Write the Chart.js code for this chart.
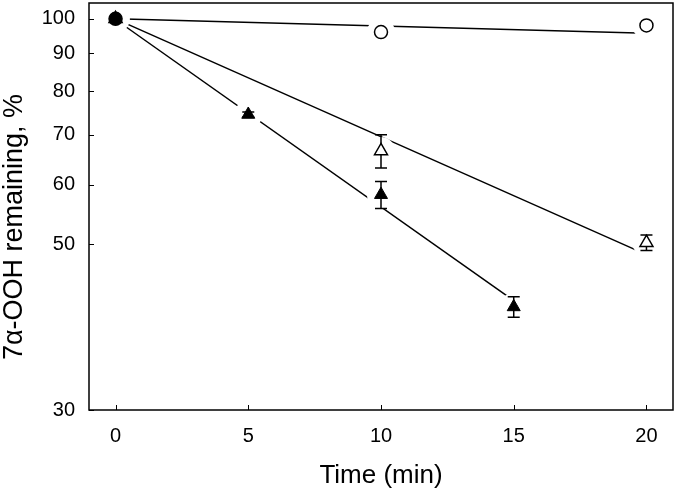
<!DOCTYPE html>
<html>
<head>
<meta charset="utf-8">
<script src="https://cdn.jsdelivr.net/npm/chart.js@4"></script>
<style>
body{margin:0;background:#fff}
</style>
</head>
<body>
<canvas id="chart" width="676" height="489"></canvas>
<script>
const xTicks = [0, 5, 10, 15, 20]
const yTicks = [30, 50, 60, 70, 80, 90, 100]

// open circles
const circleTime = [0, 10, 20]
const circleVal = [100, 96, 98]

// open triangles
const openTime = [0, 10, 20]
const openVal = [100, 66.6, 50.2]
const openErr = [0, 3.4, 1.2]

// filled triangles
const filledTime = [0, 5, 10, 15]
const filledVal = [100, 74.5, 58.2, 41.2]
const filledErr = [0, 0.6, 2.4, 1.3]

// fitted decay lines, start and end
const circleFitTime = [0, 20]
const circleFit = [100, 95.7]
const openFitTime = [0, 20]
const openFit = [100, 48.4]
const filledFitTime = [0, 15]
const filledFit = [99.8, 42.0]

const pts = (xs, ys) => xs.map((x, i) => ({x: x, y: ys[i]}))

const FONT = 'Liberation Sans, Arial, sans-serif'

// error bars, drawn just before the marker dataset so markers cover them
const errorBars = {
    id: 'errorBars',
    beforeDatasetDraw(chart, args) {
        const ds = chart.data.datasets[args.index]
        if (!ds.err) return
        const ctx = chart.ctx
        const xs = chart.scales.x, ys = chart.scales.y
        ctx.save()
        ctx.strokeStyle = '#000'
        ctx.lineWidth = 1.5
        ds.data.forEach((p, i) => {
            const e = ds.err[i]
            if (!e) return
            const px = xs.getPixelForValue(p.x)
            const top = ys.getPixelForValue(p.y + e)
            const bot = ys.getPixelForValue(p.y - e)
            ctx.beginPath()
            ctx.moveTo(px, top); ctx.lineTo(px, bot)
            ctx.moveTo(px - 6, top); ctx.lineTo(px + 6, top)
            ctx.moveTo(px - 6, bot); ctx.lineTo(px + 6, bot)
            ctx.stroke()
        })
        ctx.restore()
    }
}

// box frame with inward ticks, plus the rotated y title
const frame = {
    id: 'frame',
    beforeDatasetsDraw(chart) {
        const ctx = chart.ctx
        const a = chart.chartArea
        const xs = chart.scales.x, ys = chart.scales.y
        ctx.save()
        ctx.strokeStyle = '#000'
        ctx.lineWidth = 1.5
        ctx.strokeRect(a.left, a.top, a.right - a.left, a.bottom - a.top)
        ctx.beginPath()
        xTicks.forEach(t => {
            const px = Math.round(xs.getPixelForValue(t)) + 0.5
            ctx.moveTo(px, a.bottom); ctx.lineTo(px, a.bottom - 5)
        })
        yTicks.forEach(t => {
            const py = Math.round(ys.getPixelForValue(t)) + 0.5
            ctx.moveTo(a.left, py); ctx.lineTo(a.left + 5, py)
        })
        ctx.lineWidth = 1
        ctx.stroke()
        ctx.restore()
    },
    afterDraw(chart) {
        const ctx = chart.ctx
        ctx.save()
        ctx.translate(15, 227)
        ctx.rotate(-Math.PI / 2)
        ctx.fillStyle = '#000'
        ctx.font = '27px ' + FONT
        ctx.textAlign = 'center'
        ctx.textBaseline = 'middle'
        ctx.fillText('7α-OOH remaining, %', 0, 0)
        ctx.restore()
    }
}

// drop the label overflow padding so the plot box fills the canvas
const noPad = s => {
    s.paddingTop = 0
    s.paddingBottom = 0
    s.paddingLeft = 0
    s.paddingRight = 0
}

const allTime = circleTime.concat(openTime, filledTime)
const allVal = circleVal.concat(openVal, filledVal)

new Chart('chart', {
    type: 'scatter',
    data: {
        datasets: [
            {
                label: 'filled',
                data: pts(filledTime, filledVal),
                err: filledErr,
                pointStyle: 'triangle',
                pointRadius: 7.5,
                pointBackgroundColor: '#000',
                pointBorderColor: '#000',
                pointBorderWidth: 1,
                order: 1
            },
            {
                label: 'open',
                data: pts(openTime, openVal),
                err: openErr,
                pointStyle: 'triangle',
                pointRadius: 7.5,
                pointBackgroundColor: '#fff',
                pointBorderColor: '#000',
                pointBorderWidth: 1.5,
                order: 2
            },
            {
                label: 'circle',
                data: pts(circleTime, circleVal),
                pointStyle: 'circle',
                pointRadius: 6.5,
                pointBackgroundColor: ctx => ctx.raw && ctx.raw.x === 0 ? '#000' : '#fff',
                pointBorderColor: '#000',
                pointBorderWidth: 1.5,
                order: 3
            },
            {
                label: 'halo',
                data: pts(allTime, allVal),
                pointRadius: 14,
                pointBackgroundColor: '#fff',
                pointBorderWidth: 0,
                order: 5
            },
            {
                label: 'fit circle',
                data: pts(circleFitTime, circleFit),
                showLine: true,
                borderColor: '#000',
                borderWidth: 1.5,
                pointRadius: 0,
                order: 10
            },
            {
                label: 'fit open',
                data: pts(openFitTime, openFit),
                showLine: true,
                borderColor: '#000',
                borderWidth: 1.5,
                pointRadius: 0,
                order: 10
            },
            {
                label: 'fit filled',
                data: pts(filledFitTime, filledFit),
                showLine: true,
                borderColor: '#000',
                borderWidth: 1.5,
                pointRadius: 0,
                order: 10
            }
        ]
    },
    options: {
        responsive: false,
        animation: false,
        events: [],
        layout: {autoPadding: false, padding: {top: 3, right: 3, left: 0, bottom: 0}},
        plugins: {
            legend: {display: false},
            tooltip: {enabled: false}
        },
        scales: {
            x: {
                type: 'linear',
                min: -1,
                max: 21,
                afterBuildTicks: s => { s.ticks = xTicks.map(v => ({value: v})) },
                afterFit: s => { s.height = 79; noPad(s) },
                grid: {display: false, drawTicks: false},
                border: {display: false},
                ticks: {color: '#000', padding: 14, font: {family: FONT, size: 20}},
                title: {display: true, text: 'Time (min)', color: '#000', padding: 0, font: {family: FONT, size: 26, lineHeight: 1}}
            },
            y: {
                type: 'logarithmic',
                min: 30,
                max: 105,
                afterBuildTicks: s => { s.ticks = yTicks.map(v => ({value: v})) },
                afterFit: s => { s.width = 89; noPad(s) },
                grid: {display: false, drawTicks: false},
                border: {display: false},
                ticks: {color: '#000', padding: 14, font: {family: FONT, size: 20}, callback: v => String(v)}
            }
        }
    },
    plugins: [errorBars, frame]
})
</script>
</body>
</html>
